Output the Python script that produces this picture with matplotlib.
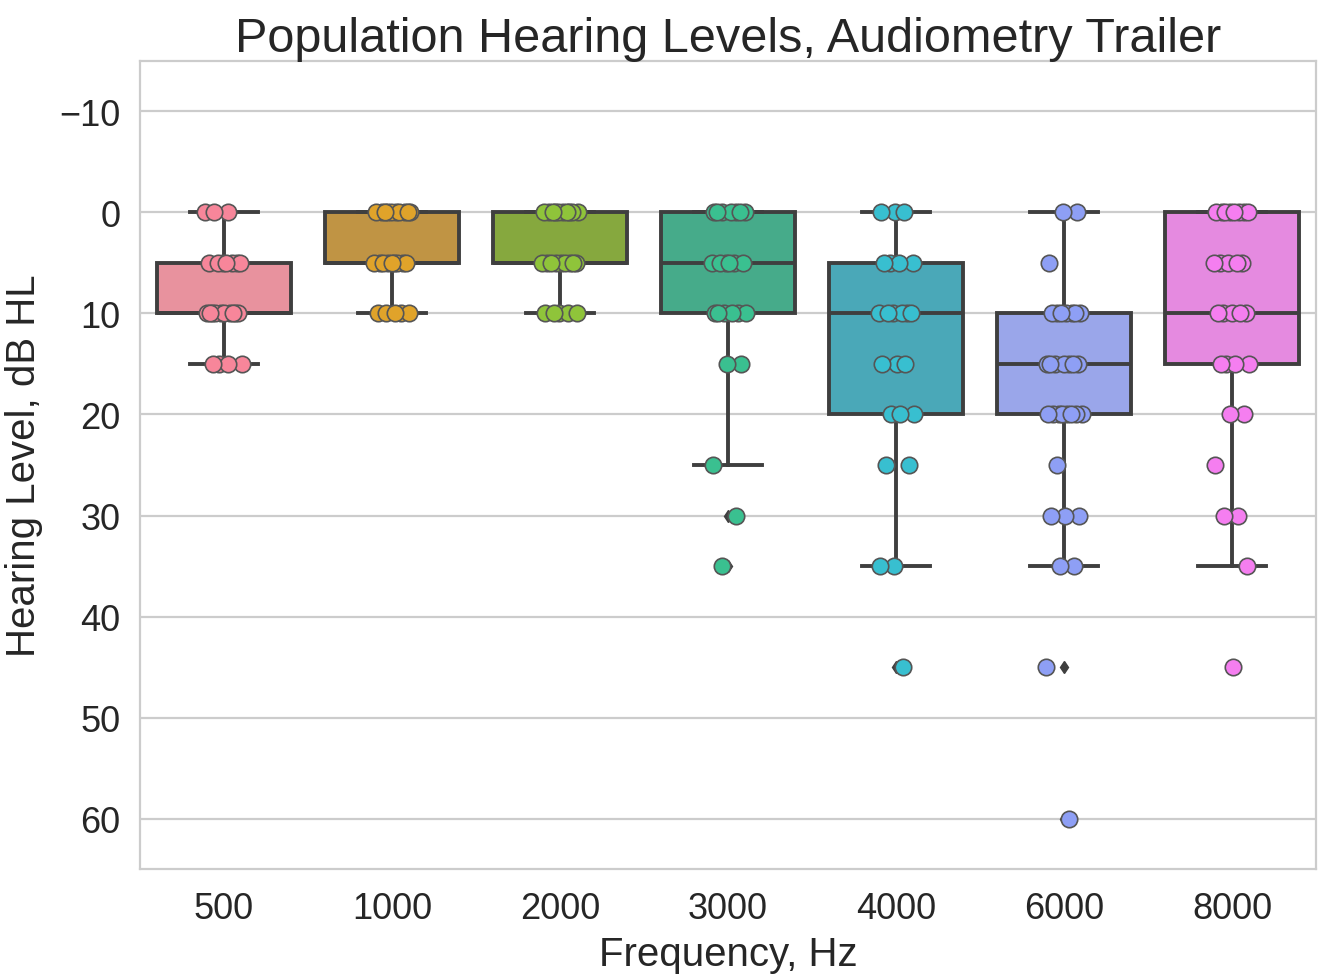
import numpy as np
import matplotlib
matplotlib.use("Agg")
import matplotlib.pyplot as plt

# ── Data (hearing levels per frequency, dB HL) ──────────────────────────────
freqs = ["500", "1000", "2000", "3000", "4000", "6000", "8000"]

# each value list paired with a count list (how many ears at that level)
hl_500 = [0, 5, 10, 15]
n_500 = [3, 7, 10, 4]
hl_1000 = [0, 5, 10]
n_1000 = [10, 9, 5]
hl_2000 = [0, 5, 10]
n_2000 = [10, 9, 5]
hl_3000 = [0, 5, 10, 15, 25, 30, 35]
n_3000 = [7, 6, 6, 2, 1, 1, 1]
hl_4000 = [0, 5, 10, 15, 20, 25, 35, 45]
n_4000 = [3, 4, 6, 3, 3, 2, 2, 1]
hl_6000 = [0, 5, 10, 15, 20, 25, 30, 35, 45, 60]
n_6000 = [2, 1, 7, 7, 8, 1, 3, 2, 1, 1]
hl_8000 = [0, 5, 10, 15, 20, 25, 30, 35, 45]
n_8000 = [8, 5, 5, 4, 2, 1, 2, 1, 1]

levels = [hl_500, hl_1000, hl_2000, hl_3000, hl_4000, hl_6000, hl_8000]
counts = [n_500, n_1000, n_2000, n_3000, n_4000, n_6000, n_8000]
data = [np.repeat(v, c) for v, c in zip(levels, counts)]

# ── Style ────────────────────────────────────────────────────────────────────
BOX_COLORS = ["#e8929e", "#c09444", "#86a83e", "#46ab8a", "#4aa8b8", "#9aa6ea", "#e58ae0"]
PT_COLORS = ["#f7869a", "#e0a32a", "#8fc43a", "#3ac090", "#38bfd0", "#8e9ff5", "#f57ef0"]
GRAY = "#3f3f3f"
GRID = "#cccccc"

plt.rcParams["font.family"] = ["Liberation Sans", "DejaVu Sans"]

fig = plt.figure(figsize=(13.23, 9.79), dpi=100, facecolor="white")
ax = fig.add_axes([0.1058, 0.1113, 0.8889, 0.8254])

pos = np.arange(len(freqs))
bp = ax.boxplot(
    data, positions=pos, widths=0.8, patch_artist=True, whis=1.5,
    capwidths=0.4,
    boxprops=dict(edgecolor=GRAY, linewidth=2.8),
    medianprops=dict(color=GRAY, linewidth=2.8),
    whiskerprops=dict(color=GRAY, linewidth=2.8),
    capprops=dict(color=GRAY, linewidth=2.8),
    flierprops=dict(marker="d", markersize=6, markerfacecolor=GRAY,
                    markeredgecolor=GRAY),
    zorder=2,
)
for patch, c in zip(bp["boxes"], BOX_COLORS):
    patch.set_facecolor(c)

# strip points with deterministic jitter (about ±0.1 of a category)
for i, vals in enumerate(data):
    k = np.arange(len(vals))
    jit = ((k * 0.618034 + 0.37 * i) % 1.0 - 0.5) * 0.22
    ax.scatter(pos[i] + jit, vals, s=140, color=PT_COLORS[i],
               edgecolor="#555555", linewidth=1.2, zorder=3)

ax.set_xlim(-0.5, len(freqs) - 0.5)
ax.set_ylim(65, -15)
ax.set_yticks(np.arange(-10, 61, 10))
ax.set_xticks(pos)
ax.set_xticklabels(freqs)
ax.tick_params(axis="both", length=0, labelsize=26, colors="#262626")
ax.tick_params(axis="x", pad=16)
ax.tick_params(axis="y", pad=14)
ax.yaxis.grid(True, color=GRID, linewidth=1.6, zorder=0)
ax.xaxis.grid(False)
ax.set_axisbelow(True)
for sp in ax.spines.values():
    sp.set_color(GRID)
    sp.set_linewidth(1.6)

ax.set_title("Population Hearing Levels, Audiometry Trailer", fontsize=35,
             color="#262626", pad=6)
ax.set_xlabel("Frequency, Hz", fontsize=29, color="#262626", labelpad=6)
ax.set_ylabel("Hearing Level, dB HL", fontsize=29, color="#262626", labelpad=12)

fig.savefig("out.png", dpi=100, facecolor="white")
